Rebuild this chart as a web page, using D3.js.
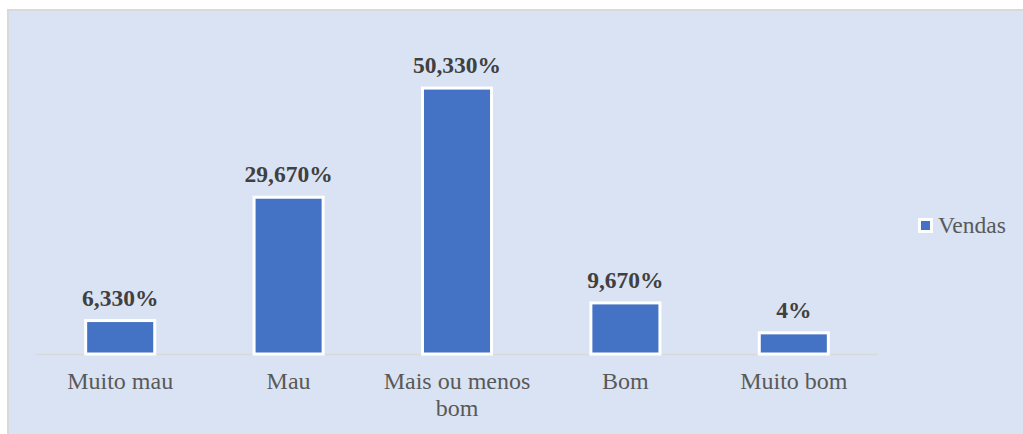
<!DOCTYPE html>
<html lang="en">
<head>
<meta charset="UTF-8">
<title>Vendas</title>
<script src="https://d3js.org/d3.v7.min.js"></script>
<style>
body { margin: 0; background: #fff; }
svg { display: block; }
</style>
</head>
<body>
<svg width="1023" height="434"></svg>
<script>
// chart data
const categories = ["Muito mau", "Mau", "Mais ou menos bom", "Bom", "Muito bom"];
const values = [6.33, 29.67, 50.33, 9.67, 4];
const valueLabels = ["6,330%", "29,670%", "50,330%", "9,670%", "4%"];
const seriesName = "Vendas";

const svg = d3.select("svg");
const blue = "#4472c4";
const textColor = "#595959";
const labelColor = "#404040";
const font = "'Liberation Serif', 'Times New Roman', serif";

// chart background with grey frame
svg.append("rect")
  .attr("x", 8).attr("y", 10)
  .attr("width", 1030).attr("height", 440)
  .attr("fill", "#dae3f3")
  .attr("stroke", "#d9d9d9")
  .attr("stroke-width", 2);

const x = d3.scaleBand()
  .domain(categories)
  .range([36, 878])
  .paddingInner(0.59)
  .paddingOuter(0.295);

const y = d3.scaleLinear()
  .domain([0, 60])
  .range([354, 37]);

// axis line
svg.append("line")
  .attr("x1", 36).attr("x2", 878)
  .attr("y1", y(0) + 0.5).attr("y2", y(0) + 0.5)
  .attr("stroke", "#d9d9d9")
  .attr("stroke-width", 1.5);

// bars
svg.append("g")
  .selectAll("rect")
  .data(values)
  .join("rect")
    .attr("x", (d, i) => x(categories[i]))
    .attr("y", d => y(d))
    .attr("width", x.bandwidth())
    .attr("height", d => y(0) - y(d))
    .attr("fill", blue)
    .attr("stroke", "#fff")
    .attr("stroke-width", 3);

// value labels
svg.append("g")
  .selectAll("text")
  .data(values)
  .join("text")
    .attr("x", (d, i) => x(categories[i]) + x.bandwidth() / 2)
    .attr("y", d => y(d) - 15)
    .attr("text-anchor", "middle")
    .attr("font-family", font)
    .attr("font-weight", "bold")
    .attr("font-size", 23.5)
    .attr("fill", labelColor)
    .text((d, i) => valueLabels[i]);

// category labels, wrapped like the original
const wrap = { "Mais ou menos bom": ["Mais ou menos", "bom"] };
const cat = svg.append("g")
  .selectAll("text")
  .data(categories)
  .join("text")
    .attr("x", d => x(d) + x.bandwidth() / 2)
    .attr("y", 389)
    .attr("text-anchor", "middle")
    .attr("font-family", font)
    .attr("font-size", 24)
    .attr("fill", textColor);

cat.each(function(d) {
  const lines = wrap[d] || [d];
  const t = d3.select(this);
  lines.forEach((l, i) => {
    t.append("tspan")
      .attr("x", x(d) + x.bandwidth() / 2)
      .attr("dy", i === 0 ? 0 : 27)
      .text(l);
  });
});

// legend
const legend = svg.append("g").attr("transform", "translate(918,218)");
legend.append("rect")
  .attr("x", 1.5).attr("y", 1.5)
  .attr("width", 12).attr("height", 12)
  .attr("fill", blue)
  .attr("stroke", "#fff")
  .attr("stroke-width", 3);
legend.append("text")
  .attr("x", 20).attr("y", 15)
  .attr("font-family", font)
  .attr("font-size", 23.5)
  .attr("fill", textColor)
  .text(seriesName);
</script>
</body>
</html>
